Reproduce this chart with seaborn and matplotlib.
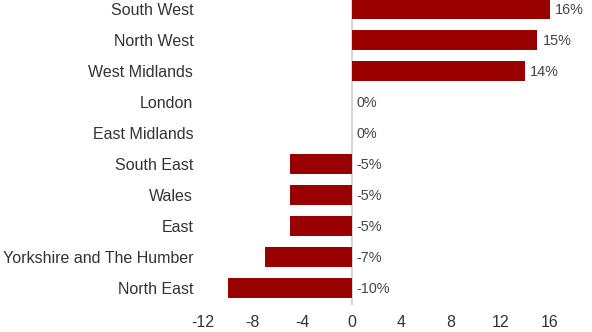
import matplotlib
matplotlib.use("Agg")
import matplotlib.pyplot as plt
import seaborn as sns
import pandas as pd

regions = ["South West", "North West", "West Midlands", "London", "East Midlands",
           "South East", "Wales", "East", "Yorkshire and The Humber", "North East"]
values = [16, 15, 14, 0, 0, -5, -5, -5, -7, -10]
xticks = [-12, -8, -4, 0, 4, 8, 12, 16]

sns.set_theme(style="white")
plt.rcParams['font.family'] = ['Liberation Sans', 'DejaVu Sans']

df = pd.DataFrame({"region": regions, "value": values})

W, H = 592, 332
fig = plt.figure(figsize=(W / 100, H / 100), dpi=100)
ax = fig.add_axes([203 / W, 1 - 305 / H, 1 - 203 / W, 305 / H])

sns.barplot(data=df, x="value", y="region", orient="h", color="#990000",
            saturation=1, width=0.645, linewidth=0, ax=ax)

ax.set_xlim(-12, 19.4)
ax.set_ylim(9.55, -0.29)
ax.axvline(0, color="#cccccc", lw=1.2, zorder=0.5)

for s in ax.spines.values():
    s.set_visible(False)

ax.set_xticks(xticks)
ax.set_xticklabels([str(t) for t in xticks], fontsize=11.4, color="#333333")
ax.tick_params(axis="x", length=0, pad=7)
ax.tick_params(axis="y", length=0, pad=7, labelsize=11.55, labelcolor="#333333")
ax.set_xlabel("")
ax.set_ylabel("")

for i, v in enumerate(values):
    x = v if v > 0 else 0
    ax.text(x + 0.42, i + 0.03, f"{v}%", va="center", ha="left", fontsize=10.4, color="#444444")

fig.savefig("out.png", dpi=100)
